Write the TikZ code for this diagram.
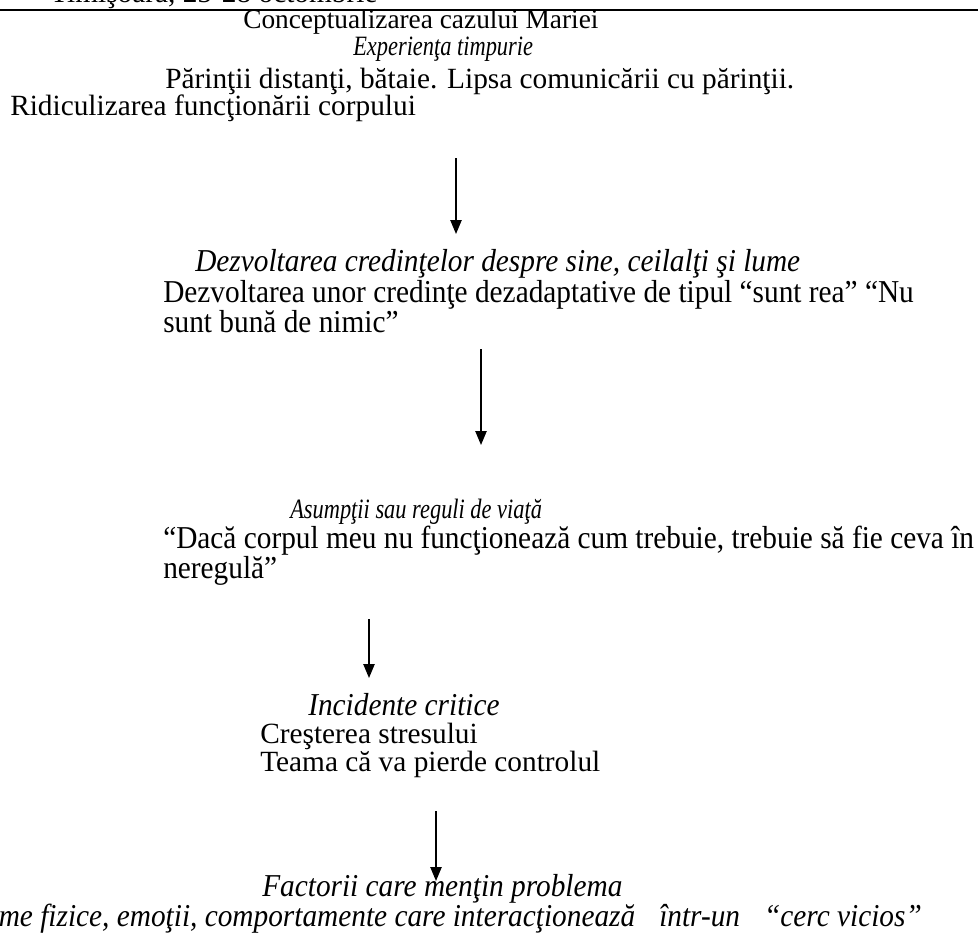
\documentclass[tikz,border=0pt]{standalone}
\usepackage{fontspec}
\setmainfont{Liberation Serif}
\newfontfamily\tallfont[FakeStretch=0.92]{Liberation Serif}
\newfontfamily\garafont[FakeStretch=0.8]{Liberation Serif}
\usetikzlibrary{arrows.meta}
\tikzset{
  txt/.style={anchor=base west, inner sep=0pt, text height=14pt, text depth=3pt,
    font=\fontsize{22}{26}\selectfont},
  tall/.style={txt, font=\tallfont\fontsize{23.9}{20.6}\selectfont},
  talli/.style={txt, font=\tallfont\fontsize{23.9}{20.6}\selectfont\itshape},
  block/.style={anchor=north west, inner sep=0pt, align=left,
    font=\tallfont\fontsize{23.9}{20.6}\selectfont},
  gara/.style={txt, font=\garafont\fontsize{21}{24}\selectfont\itshape},
  arr/.style={->, line width=1.1pt},
}
\begin{document}
\begin{tikzpicture}[x=0.75pt,y=-0.75pt,>={Triangle[length=10.5pt,width=8.5pt]}]
  \clip (0,0) rectangle (978,949);
  % header
  \node (antet) [txt] at (50,3) {Timişoara, 25-28 octombrie};
  \draw[line width=1.6pt] (0,10) -- (978,10);
  % early experience
  \node (titlu) [txt, font=\fontsize{20.5}{24}\selectfont] at (243,29) {Conceptualizarea cazului Mariei};
  \node (exp) [gara] at (353,56) {Experienţa timpurie};
  \node (parinti) [txt] at (165,89) {Părinţii distanţi, bătaie. Lipsa comunicării cu părinţii.};
  \node (ridic) [txt] at (10,116) {Ridiculizarea funcţionării corpului};
  % beliefs
  \node (dezv) [talli] at (195,271) {Dezvoltarea credinţelor despre sine, ceilalţi şi lume};
  \node (cred) [block] at (163,280) {Dezvoltarea unor credinţe dezadaptative de tipul “sunt rea” “Nu\\
    sunt bună de nimic”};
  % assumptions
  \node (asump) [gara] at (290,518) {Asumpţii sau reguli de viaţă};
  \node (daca) [block] at (163,526) {“Dacă corpul meu nu funcţionează cum trebuie, trebuie să fie ceva în\\
    neregulă”};
  % critical incidents
  \node (incid) [talli] at (308,715) {Incidente critice};
  \node (stres) [txt] at (260,743) {Creşterea stresului};
  \node (teama) [txt] at (260,771) {Teama că va pierde controlul};
  % maintaining factors
  \node (factori) [talli] at (262,896) {Factorii care menţin problema};
  \node (simpt) [talli, anchor=base east] at (922,926) {Simptome fizice, emoţii, comportamente care interacţionează\hspace{18pt}într-un\hspace{18pt}“cerc vicios”};
  % arrows
  \coordinate (a1s) at (456,158);
  \coordinate (a1e) at (456,234);
  \coordinate (a2s) at (481,349);
  \coordinate (a2e) at (481,445);
  \coordinate (a3s) at (369,619);
  \coordinate (a3e) at (369,678);
  \coordinate (a4s) at (436,811);
  \coordinate (a4e) at (436,881);
  \draw[arr] (a1s) -- (a1e);
  \draw[arr] (a2s) -- (a2e);
  \draw[arr] (a3s) -- (a3e);
  \draw[arr] (a4s) -- (a4e);
\end{tikzpicture}
\end{document}
